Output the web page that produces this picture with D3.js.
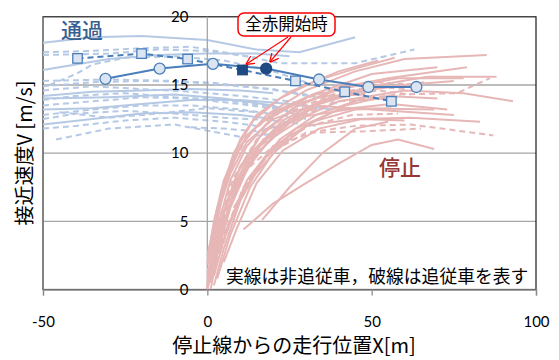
<!DOCTYPE html>
<html>
<head>
<meta charset="utf-8">
<script src="https://cdn.jsdelivr.net/npm/d3@7"></script>
<style>
  html, body { margin: 0; padding: 0; background: #fff; }
  svg { display: block; }
  text { font-family: Lato, "Noto Sans CJK JP", sans-serif; }
  .jp { font-family: "Noto Sans CJK JP", sans-serif; }
</style>
</head>
<body>
<svg id="chart" width="559" height="360"></svg>
<script>
// Axis ticks
const xTicks = [-50, 0, 50, 100];
const yTicks = [0, 5, 10, 15, 20];

// Passing vehicles (through the intersection): [dashed?, points [X, V]]
const passLines = [
  [false, [[-50,18.1],[-35,18.5],[-20,18.6],[0,18.3],[15,17.6],[28,17.4],[45,18.5]]],
  [false, [[-50,16.1],[-40,16.5],[-30,16.9],[-15,17.2],[0,17.3],[15,17.3],[25,17.1]]],
  [true,  [[-50,17.4],[-35,17.5],[-20,17.7],[-5,17.8],[10,17.2],[22,16.6],[45,16.6],[63,17.6]]],
  [true,  [[-50,17.2],[-30,17.3],[-15,17.6],[0,17.5],[15,17.0]]],
  [true,  [[-48,15.0],[-40,15.8],[-35,16.5],[-25,17.0],[-10,17.1],[5,16.8],[20,16.0],[30,15.2]]],
  [true,  [[-50,15.3],[-30,15.4],[-10,15.3],[5,15.0],[20,14.7],[30,14.2]]],
  [true,  [[-50,14.9],[-35,15.2],[-20,15.3],[0,15.2],[15,14.8],[30,14.3],[40,13.6]]],
  [true,  [[-50,14.6],[-35,14.9],[-20,14.7],[-5,14.5],[10,14.2],[25,13.8],[35,13.2]]],
  [false, [[-50,14.2],[-35,14.5],[-20,14.6],[-5,14.7],[10,14.6],[20,14.4]]],
  [false, [[-50,14.0],[-30,14.1],[-10,14.3],[5,14.0],[20,13.5],[30,12.5]]],
  [true,  [[-50,13.9],[-40,14.2],[-25,14.4],[-10,14.1],[5,13.9],[20,13.4],[30,12.9]]],
  [true,  [[-50,13.5],[-35,13.8],[-20,14.1],[-5,14.0],[10,13.6],[25,13.1]]],
  [false, [[-50,13.2],[-35,13.3],[-20,13.6],[-5,13.9],[10,13.9],[25,13.6],[38,13.2]]],
  [true,  [[-45,13.0],[-30,12.6],[-15,12.9],[0,13.3],[15,13.0]]],
  [true,  [[-50,12.8],[-35,13.2],[-20,13.5],[-5,13.5],[10,13.2],[25,12.7]]],
  [true,  [[-50,12.5],[-40,12.9],[-25,13.1],[-10,12.9],[5,12.6],[20,12.4],[33,12.0]]],
  [false, [[-50,12.1],[-35,12.5],[-20,12.9],[-5,13.0],[10,12.8],[20,12.5]]],
  [true,  [[-50,11.8],[-40,12.0],[-25,12.4],[-10,12.6],[5,12.3],[15,12.0]]],
  [true,  [[-46,11.0],[-30,11.8],[-10,12.1],[10,11.2],[20,11.4]]],
  [true,  [[-5,11.9],[5,11.8],[15,11.6],[25,12.2]]]
];

// Stopping vehicles: [dashed?, points [X, V]]
const stopLines = [
  [false, [[0,0],[2,4],[5,7.5],[10,10.5],[18,12.8],[30,14.6],[45,16],[60,16.9],[85,17.2]]],
  [false, [[0,0.5],[3,4.5],[7,8],[12,10.5],[20,12.7],[32,14.3],[50,15.8],[70,16.3]]],
  [false, [[0,1],[4,5],[9,8.5],[16,11.2],[26,13.3],[40,14.8],[55,15.5],[79,16.3]]],
  [false, [[0,0.2],[2,3],[6,6.5],[12,9.5],[22,12],[35,13.8],[50,14.8],[75,15.3]]],
  [true,  [[1,2],[4,5],[9,8],[16,10.5],[26,12.5],[40,13.8],[58,14.3],[76,14.4],[86,15.5]]],
  [false, [[0,0],[3,3.5],[8,7],[15,10],[25,12.2],[40,13.8],[60,14.6],[78,14.4],[93,13.8]]],
  [false, [[1,1.5],[5,5],[11,8.5],[19,11],[30,12.7],[45,13.3],[69,13.2]]],
  [false, [[0,2.5],[3,5.5],[7,8.5],[12,10.8],[20,12.5],[32,13.5],[50,13.2],[75,12.8]]],
  [false, [[2,1],[6,4.5],[12,8],[20,10.5],[30,12],[45,12.5],[62,12.6],[83,12.3]]],
  [true,  [[1,0.5],[5,4],[11,7.5],[19,10],[30,11.5],[45,12],[62,12.1],[87,11.3]]],
  [true,  [[2,3],[6,6],[12,8.8],[20,10.5],[32,11.5],[48,11.6],[65,11.8]]],
  [false, [[11,4.4],[20,6.3],[30,7.8],[40.5,9.3],[50,10.6],[58,11],[69,10.3]]],
  [false, [[16.7,5.1],[25,7.5],[35,10],[45,11.8],[55,12.3]]],
  [false, [[0,0],[1,3],[4,7],[8,10],[14,12.4],[22,14],[33,15.3],[45,16.2],[57,17]]],
  [false, [[1,1],[3,5],[6,8.5],[10,11],[15,12.8],[25,14.5],[40,16],[52,16.8]]],
  [true,  [[0,1.8],[3,5.5],[7,9],[13,11.5],[22,13.2],[35,14.5],[52,15.2],[65,15]]],
  [false, [[3,0.8],[7,4],[13,7.5],[20,10],[30,12],[42,13.5],[55,14.2],[70,14]]],
  [false, [[2,0.3],[5,3],[10,6.5],[17,9.5],[27,11.8],[40,13.2],[56,13.6],[73,13.2]]],
  [true,  [[0,0.8],[4,4.2],[9,7.8],[16,10.6],[26,12.7],[38,14],[52,14.6],[62,14.3]]],
  [false, [[1,0],[3,2.5],[7,6],[13,9.3],[22,11.8],[34,13.6],[48,14.6],[66,15.2]]],
  [false, [[4,3],[8,5.5],[14,8.5],[22,11],[33,12.8],[46,13.9],[58,14.1]]],
  [false, [[0,2],[2,5],[5,8],[9,10.2],[15,12],[24,13.4],[36,14.2],[48,14.3]]],
  [true,  [[3,2],[7,5],[13,8.3],[21,10.6],[31,12],[44,12.8],[58,12.9]]],
  [false, [[5,2],[9,4.5],[15,7.8],[23,10.2],[34,11.8],[47,12.5],[60,12.4]]],
  [false, [[1,0.5],[4,3.8],[8,7.2],[14,10.2],[23,12.4],[35,13.9],[50,14.9],[67,15.6],[88,15.6]]],
  [false, [[0,0],[2,2],[5,5.5],[10,9],[17,11.6],[27,13.4],[40,14.7],[58,15.5],[78,15.5]]],
  [true,  [[2,1.2],[5,4.8],[10,8.3],[17,11],[27,12.8],[40,13.8],[55,14]]],
  [false, [[0.5,3],[3,6],[7,9],[12,11.3],[20,13],[31,14.2],[42,14.7]]],
  [false, [[8,6],[14,8.3],[22,10.5],[32,12.3],[45,13.2],[56,13.3]]],
  [true,  [[0,1.2],[3,4.8],[8,8.2],[15,11],[25,13],[38,14.3],[50,14.9],[60,14.7]]]
];

// Highlighted passing vehicles: leading car (solid) and following car (dashed)
const leadX = [-31, -14.5, 1.7, 17.9, 34, 49, 63.6];
const leadV = [15.45, 16.2, 16.55, 16.2, 15.4, 14.85, 14.85];
const followX = [-39.5, -20, -6, 10.7, 26.8, 41.8, 56];
const followV = [16.95, 17.3, 16.9, 16.1, 15.3, 14.5, 13.8];
// index of the point where the all-red phase begins
const redStartIdx = 3;

const svg = d3.select("#chart");
const x = d3.scaleLinear().domain([-50, 100]).range([43, 536]);
const y = d3.scaleLinear().domain([0, 20]).range([289.5, 16.8]);

const gridColor = "#a6a6a6";
const passColor = "#b5c9e5";
const stopColor = "#e6b7b6";
const mainBlue = "#4a7ebb";

// Horizontal gridlines
svg.append("g").selectAll("line").data(yTicks.filter(t => t > 0 && t < 20)).join("line")
  .attr("x1", x(-50)).attr("x2", x(100))
  .attr("y1", d => y(d)).attr("y2", d => y(d))
  .attr("stroke", gridColor).attr("stroke-width", 1.3);

// Plot border (top/right)
svg.append("rect")
  .attr("x", x(-50)).attr("y", y(20))
  .attr("width", x(100) - x(-50)).attr("height", y(0) - y(20))
  .attr("fill", "none").attr("stroke", "#1a1a1a").attr("stroke-width", 1.2);

// Left plot edge
svg.append("line").attr("x1", x(-50)).attr("x2", x(-50)).attr("y1", y(20)).attr("y2", y(0))
  .attr("stroke", "#8c8c8c").attr("stroke-width", 1.3);

const line = d3.line().x(d => x(d[0])).y(d => y(d[1]));

// Background trajectories
const gPass = svg.append("g");
passLines.forEach(([dashed, pts]) => {
  gPass.append("path").attr("d", line(pts))
    .attr("fill", "none").attr("stroke", passColor).attr("stroke-width", 2)
    .attr("stroke-dasharray", dashed ? "6,4" : null);
});

// Y-axis at X = 0
svg.append("line").attr("x1", x(0)).attr("x2", x(0)).attr("y1", y(20)).attr("y2", y(0))
  .attr("stroke", gridColor).attr("stroke-width", 1.3);

const gStop = svg.append("g");
stopLines.forEach(([dashed, pts]) => {
  gStop.append("path").attr("d", line(pts))
    .attr("fill", "none").attr("stroke", stopColor).attr("stroke-width", 2)
    .attr("stroke-dasharray", dashed ? "6,4" : null);
});

// X axis
const xAxis = d3.axisBottom(x).tickValues(xTicks).tickSize(6).tickFormat(d => String(d));
const gx = svg.append("g").attr("transform", `translate(0,${y(0)})`).call(xAxis);
gx.select(".domain").attr("stroke", "#8c8c8c").attr("stroke-width", 1.3);
gx.selectAll(".tick line").attr("stroke", "#8c8c8c").attr("stroke-width", 1.3);
gx.selectAll(".tick text").attr("y", 27).attr("dy", "0.71em")
  .attr("font-size", 15).attr("fill", "#000").attr("font-family", "Lato, sans-serif");

// Y tick labels sit just left of X = 0
const gy = svg.append("g").attr("transform", `translate(${x(0)},0)`)
  .call(d3.axisLeft(y).tickValues(yTicks).tickSize(0).tickPadding(19));
gy.select(".domain").remove();
gy.selectAll(".tick text").attr("font-size", 15).attr("fill", "#000").attr("font-family", "Lato, sans-serif");

// Highlighted series
const pts = (xs, vs) => xs.map((d, i) => [d, vs[i]]);
const follow = pts(followX, followV);
const lead = pts(leadX, leadV);

svg.append("path").attr("d", line(follow)).attr("fill", "none")
  .attr("stroke", mainBlue).attr("stroke-width", 2).attr("stroke-dasharray", "6,4");
svg.append("path").attr("d", line(lead)).attr("fill", "none")
  .attr("stroke", mainBlue).attr("stroke-width", 2);

const sq = 9.5;
svg.append("g").selectAll("rect").data(follow).join("rect")
  .attr("x", d => x(d[0]) - sq / 2).attr("y", d => y(d[1]) - sq / 2)
  .attr("width", sq).attr("height", sq)
  .attr("fill", (d, i) => i === redStartIdx ? "#1f4b85" : "#dbe5f1")
  .attr("stroke", (d, i) => i === redStartIdx ? "#1f497d" : mainBlue).attr("stroke-width", 1.3);

svg.append("g").selectAll("circle").data(lead).join("circle")
  .attr("cx", d => x(d[0])).attr("cy", d => y(d[1])).attr("r", 5.5)
  .attr("fill", (d, i) => i === redStartIdx ? "#1f4b85" : "#dbe5f1")
  .attr("stroke", (d, i) => i === redStartIdx ? "#1f497d" : mainBlue).attr("stroke-width", 1.3);

// Callout for the start of the all-red phase
svg.append("defs").append("marker")
  .attr("id", "arrow").attr("viewBox", "0 0 10 10").attr("refX", 9).attr("refY", 5)
  .attr("markerWidth", 9).attr("markerHeight", 9).attr("orient", "auto-start-reverse")
  .attr("markerUnits", "userSpaceOnUse")
  .append("path").attr("d", "M0,0 L10,5 L0,10").attr("fill", "none")
  .attr("stroke", "#ff0000").attr("stroke-width", 1.4);

const boxX = 238, boxY = 13, boxW = 97, boxH = 23;
const fp = follow[redStartIdx], lp = lead[redStartIdx];
svg.append("line")
  .attr("x1", 288).attr("y1", boxY + boxH + 1)
  .attr("x2", x(fp[0]) + 4).attr("y2", y(fp[1]) - 6)
  .attr("stroke", "#ff0000").attr("stroke-width", 1.2).attr("marker-end", "url(#arrow)");
svg.append("line")
  .attr("x1", 291).attr("y1", boxY + boxH + 1)
  .attr("x2", x(lp[0]) + 4).attr("y2", y(lp[1]) - 7)
  .attr("stroke", "#ff0000").attr("stroke-width", 1.2).attr("marker-end", "url(#arrow)");
svg.append("rect").attr("x", boxX).attr("y", boxY).attr("width", boxW).attr("height", boxH)
  .attr("rx", 6).attr("fill", "#fff").attr("stroke", "#ff0000").attr("stroke-width", 1.5);
svg.append("text").attr("class", "jp").attr("x", boxX + boxW / 2).attr("y", boxY + boxH / 2)
  .attr("dy", "0.36em").attr("text-anchor", "middle").attr("font-size", 16.5).attr("fill", "#000")
  .text("全赤開始時");

// Group labels
svg.append("text").attr("class", "jp").attr("x", 61).attr("y", 38)
  .attr("font-size", 21).attr("font-weight", 500).attr("fill", "#376092").text("通過");
svg.append("text").attr("class", "jp").attr("x", 379).attr("y", 175)
  .attr("font-size", 21).attr("font-weight", 500).attr("fill", "#953735").text("停止");

// Note
svg.append("text").attr("class", "jp").attr("x", 226).attr("y", 283)
  .attr("font-size", 17.8).attr("fill", "#000")
  .text("実線は非追従車，破線は追従車を表す");

// Axis titles
svg.append("text").attr("class", "jp")
  .attr("transform", "translate(25,153) rotate(-90)")
  .attr("text-anchor", "middle").attr("dy", "0.36em")
  .attr("font-size", 20).attr("fill", "#000").text("接近速度V [m/s]");
svg.append("text").attr("class", "jp").attr("x", 294).attr("y", 346)
  .attr("text-anchor", "middle").attr("dy", "0.36em")
  .attr("font-size", 20).attr("fill", "#000").text("停止線からの走行位置X[m]");
</script>
</body>
</html>
